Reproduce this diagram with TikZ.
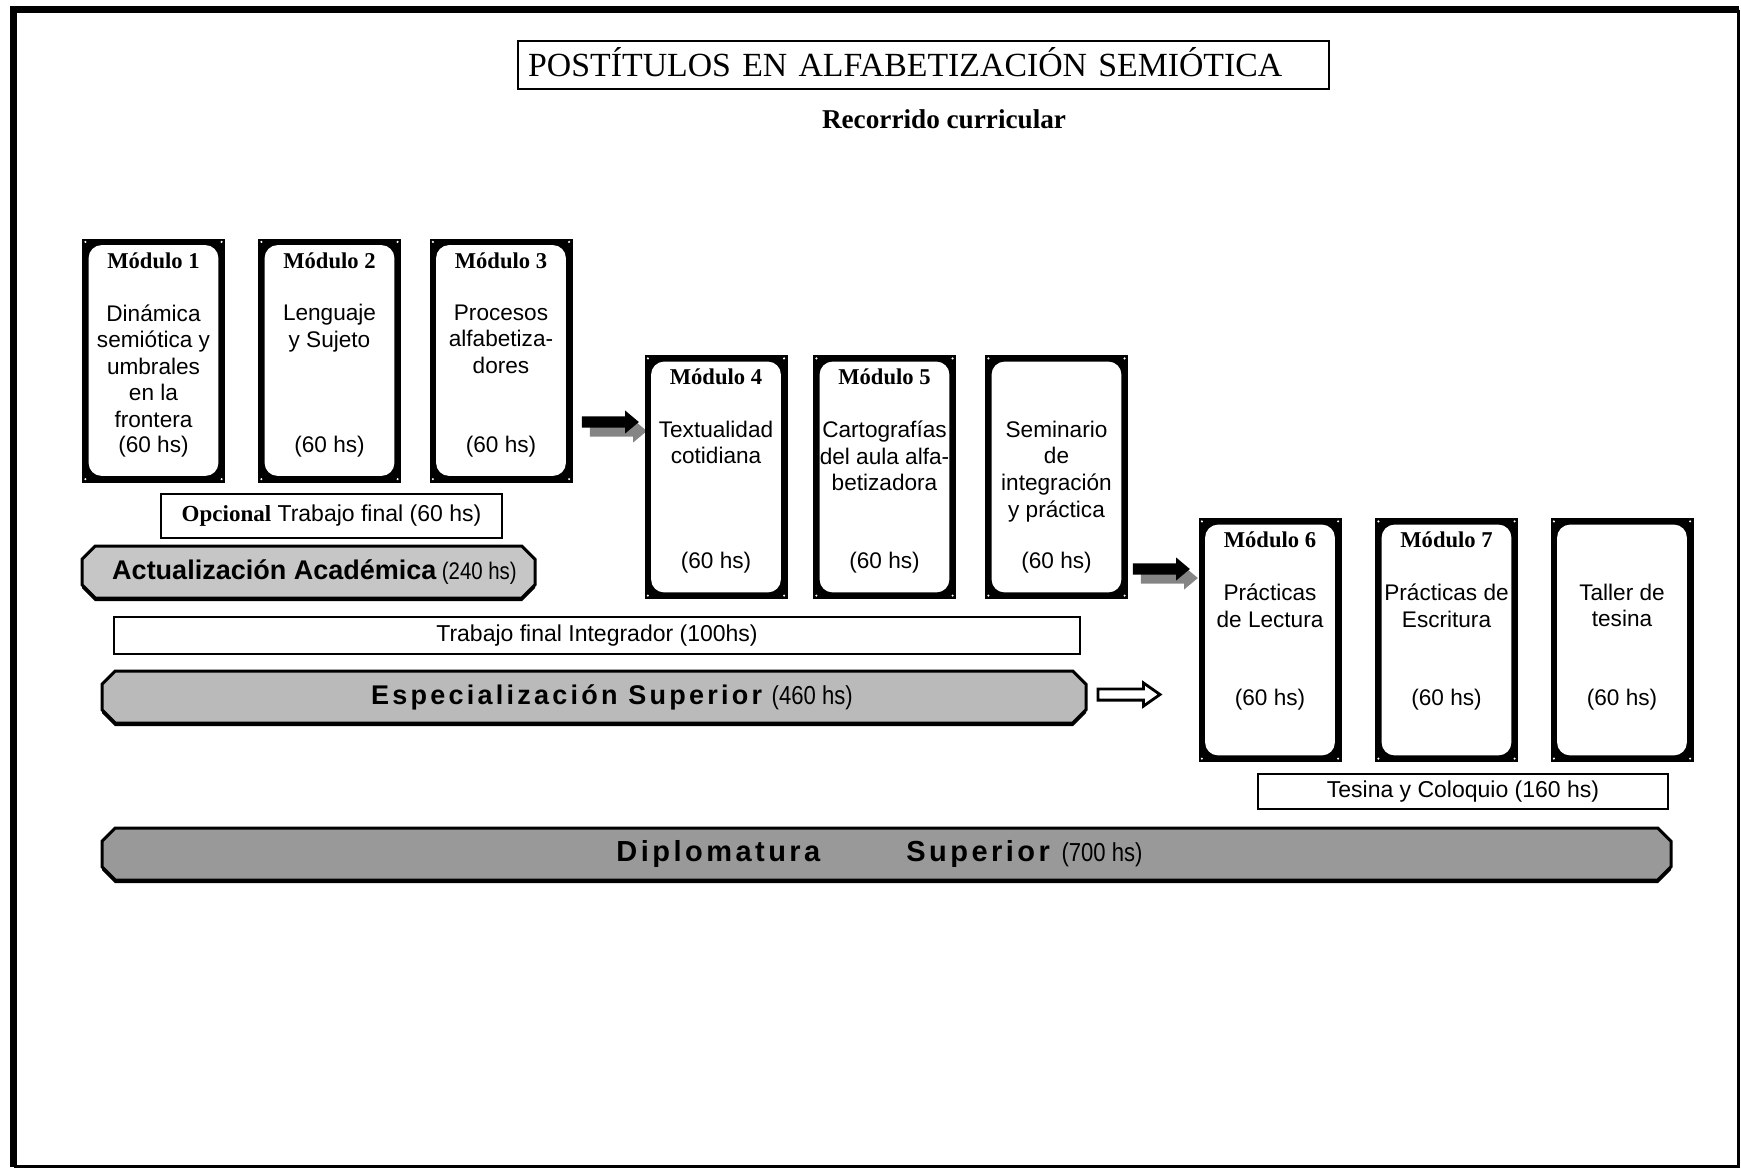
\documentclass[tikz,border=0pt]{standalone}
\usepackage{fontspec}
\setmainfont{Liberation Serif}
\setsansfont{Liberation Sans}
\newfontfamily\espaciada[LetterSpace=12]{Liberation Sans}
\newfontfamily\angosta[FakeStretch=0.85]{Liberation Sans}
\usetikzlibrary{shapes.misc,shapes.arrows,shadows}
\definecolor{grisA}{HTML}{C6C6C6}
\definecolor{grisB}{HTML}{BABABA}
\definecolor{grisC}{HTML}{999999}
\definecolor{sombra}{HTML}{858585}

\begin{document}
\begin{tikzpicture}[x=0.5pt,y=-0.5pt,
	modulo/.style={rectangle, fill=black, inner sep=0pt, minimum width=71.5pt, minimum height=122pt,
		path picture={
			\fill[white, rounded corners=6.5pt] ([shift={(3.3pt,3.3pt)}]path picture bounding box.south west) rectangle ([shift={(-3.3pt,-3.3pt)}]path picture bounding box.north east);
			\fill[white] ([shift={(1.7pt,1.7pt)}]path picture bounding box.south west) circle (0.6pt);
			\fill[white] ([shift={(-1.7pt,1.7pt)}]path picture bounding box.south east) circle (0.6pt);
			\fill[white] ([shift={(1.7pt,-1.7pt)}]path picture bounding box.north west) circle (0.6pt);
			\fill[white] ([shift={(-1.7pt,-1.7pt)}]path picture bounding box.north east) circle (0.6pt);
		}},
	modtit/.style={font=\rmfamily\bfseries\fontsize{11.3}{13}\selectfont, anchor=base, inner sep=0pt},
	modtxt/.style={font=\sffamily\fontsize{11.3}{13.3}\selectfont, align=center, anchor=north, inner sep=0pt},
	horas/.style={font=\sffamily\fontsize{11.3}{13.3}\selectfont, anchor=base, inner sep=0pt},
	caja/.style={rectangle, draw=black, line width=1.3pt, fill=white, inner sep=0pt, font=\sffamily\fontsize{11.5}{13.3}\selectfont},
	barra/.style={chamfered rectangle, chamfered rectangle xsep=3pt, chamfered rectangle ysep=3.6pt, draw=black, line width=1.5pt, inner sep=0pt, minimum height=26pt, font=\sffamily,
		drop shadow={shadow xshift=0pt, shadow yshift=-1.6pt, fill=black, opacity=1}},
	flecha/.style={single arrow, fill=black, inner xsep=0pt, inner ysep=2.6pt, minimum height=28.5pt, single arrow head extend=3pt, single arrow tip angle=80,
		drop shadow={shadow xshift=4pt, shadow yshift=-4.5pt, fill=sombra, opacity=1}},
	hueca/.style={single arrow, draw=black, fill=white, line width=1.4pt, inner xsep=0pt, inner ysep=2.1pt, minimum height=31pt, single arrow head extend=3pt, single arrow tip angle=70}]
	\useasboundingbox (0,0) rectangle (1741,1169);
	% marco
	\draw[line width=3.5pt, line join=miter] (13.5,1166.5) -- (13.5,9.5) -- (1738.5,9.5);
	\draw[line width=1.6pt] (1738.5,9.5) -- (1738.5,1166.5) -- (13.5,1166.5);

	\node[caja, anchor=west, line width=1.2pt, minimum height=24pt, text width=395.5pt, inner xsep=5pt, align=left, text height=11.3pt, text depth=0pt, font=\rmfamily\fontsize{16.9}{18}\selectfont] (titulo) at (517,65) {POSTÍTULOS EN ALFABETIZACIÓN SEMIÓTICA};
	\node[font=\rmfamily\bfseries\fontsize{13.6}{16}\selectfont, anchor=base, inner sep=0pt] (recorrido) at (944,128) {Recorrido curricular};

	% primera fila
	\node[modulo] (m1) at (153.5,360.5) {};
	\node[modtit] (m1t) at ([yshift=-15pt]m1.north) {Módulo 1};
	\node[modtxt] (m1c) at ([yshift=-33pt]m1.north) {Dinámica\\semiótica y\\umbrales\\en la\\frontera};
	\node[horas] (m1h) at ([yshift=-107pt]m1.north) {(60 hs)};
	\node[modulo] (m2) at (329.5,360.5) {};
	\node[modtit] (m2t) at ([yshift=-15pt]m2.north) {Módulo 2};
	\node[modtxt] (m2c) at ([yshift=-33pt]m2.north) {Lenguaje\\y Sujeto};
	\node[horas] (m2h) at ([yshift=-107pt]m2.north) {(60 hs)};
	\node[modulo] (m3) at (501,360.5) {};
	\node[modtit] (m3t) at ([yshift=-15pt]m3.north) {Módulo 3};
	\node[modtxt] (m3c) at ([yshift=-33pt]m3.north) {Procesos\\alfabetiza-\\dores};
	\node[horas] (m3h) at ([yshift=-107pt]m3.north) {(60 hs)};

	\node[caja, minimum width=170.5pt, minimum height=22pt, line width=1.1pt] (opcional) at (331.5,516) {{\rmfamily\bfseries Opcional} Trabajo final (60 hs)};
	\node[barra, fill=grisA, minimum width=226.5pt] (actualizacion) at (308.5,572) {\hspace{6pt}{\bfseries\fontsize{13.5}{16}\selectfont Actualización Académica} {\angosta\fontsize{12}{14}\selectfont (240 hs)}};

	% segunda fila
	\node[flecha] (flecha1) at (607,422) {};
	\node[modulo] (m4) at (716,477) {};
	\node[modtit] (m4t) at ([yshift=-15pt]m4.north) {Módulo 4};
	\node[modtxt] (m4c) at ([yshift=-33pt]m4.north) {Textualidad\\cotidiana};
	\node[horas] (m4h) at ([yshift=-107pt]m4.north) {(60 hs)};
	\node[modulo] (m5) at (884.5,477) {};
	\node[modtit] (m5t) at ([yshift=-15pt]m5.north) {Módulo 5};
	\node[modtxt] (m5c) at ([yshift=-33pt]m5.north) {Cartografías\\del aula alfa-\\betizadora};
	\node[horas] (m5h) at ([yshift=-107pt]m5.north) {(60 hs)};
	\node[modulo] (seminario) at (1056.5,477) {};
	\node[modtxt] (seminarioc) at ([yshift=-33pt]seminario.north) {Seminario\\de\\integración\\y práctica};
	\node[horas] (seminarioh) at ([yshift=-107pt]seminario.north) {(60 hs)};

	\node[caja, minimum width=483pt, minimum height=18.5pt] (integrador) at (597,635.5) {Trabajo final Integrador (100hs)};
	\node[barra, fill=grisB, minimum width=492pt] (especializacion) at (594,697) {\hspace{18pt}{\espaciada\bfseries\fontsize{13.5}{16}\selectfont Especialización Superior}\hspace{2pt} {\angosta\fontsize{13}{15}\selectfont (460 hs)}};
	\node[hueca] (flecha3) at (1125,694.5) {};

	% tercera fila
	\node[flecha] (flecha2) at (1158,569) {};
	\node[modulo] (m6) at (1270,640) {};
	\node[modtit] (m6t) at ([yshift=-15pt]m6.north) {Módulo 6};
	\node[modtxt] (m6c) at ([yshift=-33pt]m6.north) {Prácticas\\de Lectura};
	\node[horas] (m6h) at ([yshift=-94pt]m6.north) {(60 hs)};
	\node[modulo] (m7) at (1446.5,640) {};
	\node[modtit] (m7t) at ([yshift=-15pt]m7.north) {Módulo 7};
	\node[modtxt] (m7c) at ([yshift=-33pt]m7.north) {Prácticas de\\Escritura};
	\node[horas] (m7h) at ([yshift=-94pt]m7.north) {(60 hs)};
	\node[modulo] (taller) at (1622,640) {};
	\node[modtxt] (tallerc) at ([yshift=-33pt]taller.north) {Taller de\\tesina};
	\node[horas] (tallerh) at ([yshift=-94pt]taller.north) {(60 hs)};

	\node[caja, minimum width=205pt, minimum height=17.5pt] (tesina) at (1463,791.5) {Tesina y Coloquio (160 hs)};
	\node[barra, fill=grisC, minimum width=784.5pt] (diplomatura) at (886.5,854) {{\espaciada\bfseries\fontsize{14.5}{16}\selectfont Diplomatura\hspace{43pt}Superior}\hspace{3pt} {\angosta\fontsize{13}{15}\selectfont (700 hs)}\hspace{7pt}\null};
\end{tikzpicture}
\end{document}
